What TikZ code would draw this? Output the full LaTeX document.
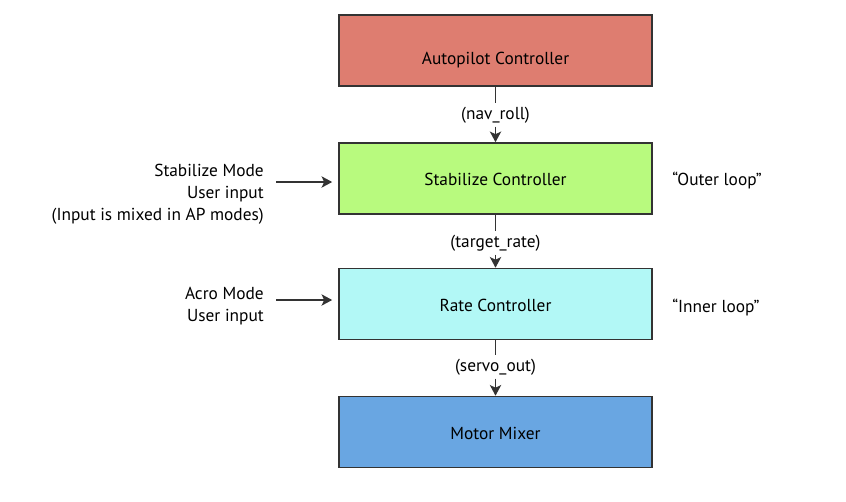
\documentclass[tikz,border=0pt]{standalone}
\usepackage{fontspec}
\setmainfont{PT Sans}
\usetikzlibrary{arrows.meta}
\definecolor{apred}{HTML}{DE7D70}
\definecolor{stabgreen}{HTML}{B8FA7E}
\definecolor{ratecyan}{HTML}{B2F8F6}
\definecolor{mixblue}{HTML}{69A6E2}
\tikzset{
  ctrl/.style={draw=black!80, line width=1.2pt, minimum width=313*0.75pt, minimum height=71*0.75pt},
  ctrltxt/.style={font=\fontsize{13}{15}\selectfont, text height=0.7em, text depth=0pt, inner sep=0pt},
  sig/.style={font=\fontsize{13}{15}\selectfont, inner sep=2.5pt},
  side/.style={font=\fontsize{13}{16.5}\selectfont, inner sep=0pt},
  wire/.style={line width=1.2pt, draw=black!80},
  flow/.style={wire, -{Stealth[length=8pt,width=8.5pt,inset=2pt]}},
}
\begin{document}
\begin{tikzpicture}[x=0.75pt,y=0.75pt,yscale=-1,xscale=1]
\useasboundingbox (0,0) rectangle (846,501);

% Controller boxes
\node[ctrl, fill=apred] (ap) at (495.5,50.5) {};
\node[ctrl, fill=stabgreen] (stab) at (495.5,178.5) {};
\node[ctrl, fill=ratecyan] (rate) at (495.5,304) {};
\node[ctrl, fill=mixblue] (mix) at (495.5,432) {};

% Box texts
\node[ctrltxt] (aptxt) at (495.5,59.5) {Autopilot Controller};
\node[ctrltxt] (stabtxt) at (495.5,180.5) {Stabilize Controller};
\node[ctrltxt] (ratetxt) at (495.5,307) {Rate Controller};
\node[ctrltxt] (mixtxt) at (495.5,434.5) {Motor Mixer};

% Signal labels
\node[sig] (navroll) at (495.5,115) {(nav\_roll)};
\node[sig] (tgtrate) at (495.5,243) {(target\_rate)};
\node[sig] (servo) at (495.5,367) {(servo\_out)};

% Vertical flow
\draw[wire] (ap) -- (navroll);
\draw[flow] (navroll) -- (stab);
\draw[wire] (stab) -- (tgtrate);
\draw[flow] (tgtrate) -- (rate);
\draw[wire] (rate) -- (servo);
\draw[flow] (servo) -- (mix);

% User inputs
\node[side, align=right, anchor=east] (stabin) at (264,194) {Stabilize Mode\\User input\\(Input is mixed in AP modes)};
\node[side, align=right, anchor=east] (acroin) at (264,306.5) {Acro Mode\\User input};
\coordinate (stabarr) at (276,182);
\coordinate (acroarr) at (276,300);
\draw[flow, shorten >=4.5pt] (stabarr) -- (stabarr -| stab.west);
\draw[flow, shorten >=4.5pt] (acroarr) -- (acroarr -| rate.west);

% Loop names
\node[side, anchor=west] (outer) at (672,180) {“Outer loop”};
\node[side, anchor=west] (inner) at (672,307) {“Inner loop”};

\end{tikzpicture}
\end{document}
